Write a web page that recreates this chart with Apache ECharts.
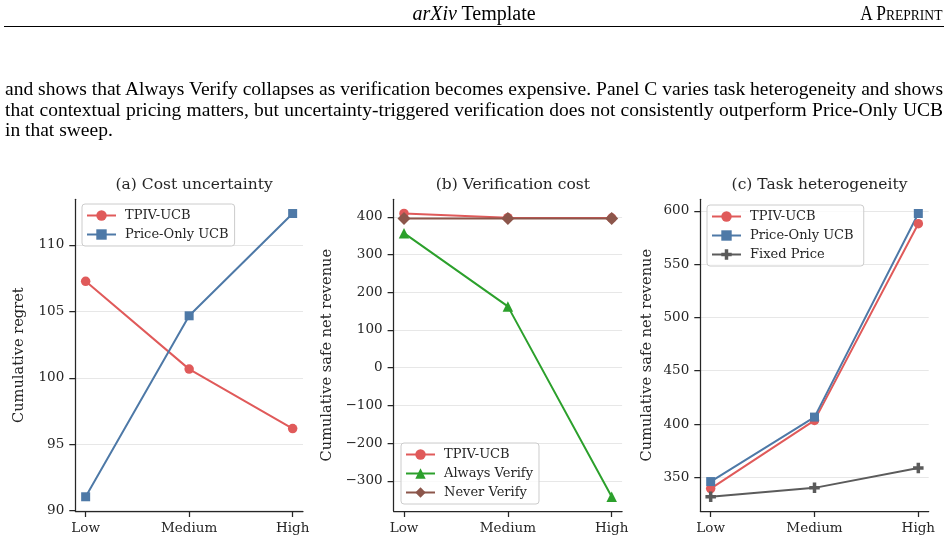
<!DOCTYPE html>
<html>
<head>
<meta charset="utf-8">
<script src="https://cdn.jsdelivr.net/npm/echarts@6/dist/echarts.min.js"></script>
<style>
  html, body { margin: 0; padding: 0; background: #fff; }
  #page { position: relative; width: 948px; height: 545px; overflow: hidden; }
  #chart { position: absolute; left: 0; top: 0; width: 948px; height: 545px; }
  .txt { position: absolute; font-family: "Liberation Serif", serif; font-size: 19.5px; line-height: 20.2px; color: #000; white-space: nowrap; }
  .hdr { font-size: 20px; }
  .just { text-align: justify; text-align-last: justify; white-space: normal; }
  .sc { display: inline-block; transform: scaleX(0.87); transform-origin: right center; }
  #rule { position: absolute; left: 4px; top: 26px; width: 940px; border-top: 1.3px solid #000; }
</style>
</head>
<body>
<div id="page">
  <div id="chart"></div>
  <div class="txt hdr" style="left:0; top:2.5px; width:948px; text-align:center;"><i>arXiv</i> Template</div>
  <div class="txt hdr" style="right:6px; top:2.5px;"><span class="sc">A P<span style="font-size:15.6px;">REPRINT</span></span></div>
  <div id="rule"></div>
  <div class="txt just" style="left:5px; top:79.3px; width:938px;">and shows that Always Verify collapses as verification becomes expensive. Panel C varies task heterogeneity and shows</div>
  <div class="txt just" style="left:5px; top:99.5px; width:938px;">that contextual pricing matters, but uncertainty-triggered verification does not consistently outperform Price-Only UCB</div>
  <div class="txt" style="left:5px; top:119.7px;">in that sweep.</div>
</div>
<script>
// x 轴分类
const levels = ['Low', 'Medium', 'High'];

// (a) 成本不确定性
const regretTpiv = [107.25, 100.65, 96.18];
const regretPriceOnly = [91.05, 104.66, 112.35];
const regretTicks = [90, 95, 100, 105, 110];

// (b) 验证成本
const costTpiv = [408.7, 397.5, 396.5];
const costAlways = [356.6, 162.4, -342.4];
const costNever = [395.5, 395.5, 395.5];
const costTicks = [-300, -200, -100, 0, 100, 200, 300, 400];

// (c) 任务异质性
const hetTpiv = [339.4, 403.4, 587.9];
const hetPriceOnly = [346.0, 406.5, 597.5];
const hetFixed = [331.7, 340.1, 358.8];
const hetTicks = [350, 400, 450, 500, 550, 600];

const RED = '#e05a5a';
const BLUE = '#4e79a7';
const GREEN = '#2ca02c';
const BROWN = '#8c564b';
const GRAY = '#5b5b5b';
const PLUS = 'path://M2,0 H4 V2 H6 V4 H4 V6 H2 V4 H0 V2 H2 Z';
const FONT = 'DejaVu Serif';

const chart = echarts.init(document.getElementById('chart'));

const pts = (vals) => levels.map((_, i) => [i, vals[i]]);
const minus = (v) => String(v).replace('-', '\u2212');

// 三个子图的位置
const grids = [
  { left: 75.3, top: 199.3, width: 227.7, height: 311.7 },
  { left: 393.6, top: 199.3, width: 228.5, height: 311.7 },
  { left: 700.3, top: 199.3, width: 228.4, height: 311.7 },
];

const xAxisOf = (i) => ({
  type: 'value',
  gridIndex: i,
  min: -0.1,
  max: 2.1,
  axisLine: { show: true, onZero: false, lineStyle: { color: '#262626', width: 1.25 } },
  axisTick: { show: true, length: 6, lineStyle: { color: '#262626', width: 1.25 }, customValues: [0, 1, 2] },
  axisLabel: {
    customValues: [0, 1, 2],
    margin: 10,
    color: '#262626',
    fontFamily: FONT,
    fontSize: 13.5,
    formatter: (v) => levels[Math.round(v)],
  },
  splitLine: { show: false },
});

const yAxisOf = (i, min, max, ticks, name, gap) => ({
  type: 'value',
  gridIndex: i,
  min: min,
  max: max,
  name: name,
  nameLocation: 'middle',
  nameGap: gap,
  nameTextStyle: { fontFamily: FONT, fontSize: 14.6, color: '#262626' },
  axisLine: { show: true, onZero: false, lineStyle: { color: '#262626', width: 1.25 } },
  axisTick: { show: true, length: 6, lineStyle: { color: '#262626', width: 1.25 }, customValues: ticks },
  axisLabel: {
    customValues: ticks,
    margin: 11,
    color: '#262626',
    fontFamily: FONT,
    fontSize: 13.5,
    formatter: minus,
  },
  splitLine: { show: true, lineStyle: { color: '#e4e4e4', width: 0.9 } },
});

const line = (name, idx, vals, color, symbol, size) => ({
  name: name,
  type: 'line',
  xAxisIndex: idx,
  yAxisIndex: idx,
  data: pts(vals),
  symbol: symbol,
  symbolSize: size,
  lineStyle: { color: color, width: 2 },
  itemStyle: { color: color, opacity: 1 },
  emphasis: { disabled: true },
});

const legendOf = (i, names, left, top) => ({
  data: names,
  orient: 'vertical',
  left: left,
  top: top,
  padding: [5, 6, 5, 4],
  itemWidth: 29,
  itemHeight: 13,
  itemGap: 6,
  borderColor: '#cccccc',
  borderWidth: 1,
  borderRadius: 3,
  backgroundColor: 'rgba(255,255,255,0.8)',
  textStyle: { fontFamily: FONT, fontSize: 13, color: '#262626', lineHeight: 13, padding: [0, 0, 0, 4] },
  selectedMode: false,
});

const titleOf = (text, grid) => ({
  text: text,
  left: grid.left + grid.width / 2,
  top: 172,
  textAlign: 'center',
  textStyle: { fontFamily: FONT, fontSize: 15.5, fontWeight: 'normal', color: '#262626' },
});

const option = {
  animation: false,
  backgroundColor: '#ffffff',
  title: [
    titleOf('(a) Cost uncertainty', grids[0]),
    titleOf('(b) Verification cost', grids[1]),
    titleOf('(c) Task heterogeneity', grids[2]),
  ],
  grid: grids,
  xAxis: [xAxisOf(0), xAxisOf(1), xAxisOf(2)],
  yAxis: [
    yAxisOf(0, 89.98, 113.42, regretTicks, 'Cumulative regret', 49),
    yAxisOf(1, -380, 446.3, costTicks, 'Cumulative safe net revenue', 59),
    yAxisOf(2, 318.4, 610.8, hetTicks, 'Cumulative safe net revenue', 45.5),
  ],
  legend: [
    legendOf(0, ['TPIV-UCB', 'Price-Only UCB'], 82, 204),
    legendOf(1, ['TPIV-UCB ', 'Always Verify', 'Never Verify'], 401, 443),
    legendOf(2, ['TPIV-UCB  ', 'Price-Only UCB ', 'Fixed Price'], 707, 205),
  ],
  series: [
    line('TPIV-UCB', 0, regretTpiv, RED, 'circle', 9.5),
    line('Price-Only UCB', 0, regretPriceOnly, BLUE, 'rect', 9),
    line('TPIV-UCB ', 1, costTpiv, RED, 'circle', 9.5),
    line('Always Verify', 1, costAlways, GREEN, 'triangle', 10.5),
    line('Never Verify', 1, costNever, BROWN, 'diamond', 13),
    line('TPIV-UCB  ', 2, hetTpiv, RED, 'circle', 9.5),
    line('Price-Only UCB ', 2, hetPriceOnly, BLUE, 'rect', 9),
    line('Fixed Price', 2, hetFixed, GRAY, PLUS, 10.5),
  ],
};

chart.setOption(option);
window.addEventListener('resize', () => chart.resize());
</script>
</body>
</html>
